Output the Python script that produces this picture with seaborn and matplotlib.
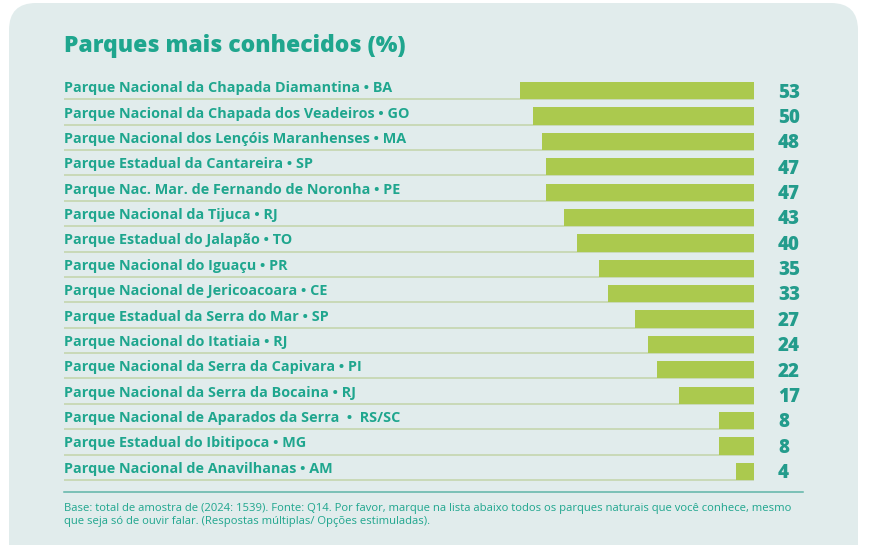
import matplotlib
matplotlib.use("Agg")
import matplotlib.pyplot as plt
import seaborn as sns
import pandas as pd
from matplotlib.patches import FancyBboxPatch
from matplotlib.transforms import blended_transform_factory

parks = [
    "Parque Nacional da Chapada Diamantina • BA",
    "Parque Nacional da Chapada dos Veadeiros • GO",
    "Parque Nacional dos Lençóis Maranhenses • MA",
    "Parque Estadual da Cantareira • SP",
    "Parque Nac. Mar. de Fernando de Noronha • PE",
    "Parque Nacional da Tijuca • RJ",
    "Parque Estadual do Jalapão • TO",
    "Parque Nacional do Iguaçu • PR",
    "Parque Nacional de Jericoacoara • CE",
    "Parque Estadual da Serra do Mar • SP",
    "Parque Nacional do Itatiaia • RJ",
    "Parque Nacional da Serra da Capivara • PI",
    "Parque Nacional da Serra da Bocaina • RJ",
    "Parque Nacional de Aparados da Serra  •  RS/SC",
    "Parque Estadual do Ibitipoca • MG",
    "Parque Nacional de Anavilhanas • AM",
]
values = [53, 50, 48, 47, 47, 43, 40, 35, 33, 27, 24, 22, 17, 8, 8, 4]

title = "Parques mais conhecidos (%)"
footnote = ("Base: total de amostra de (2024: 1539). Fonte: Q14. Por favor, marque na lista abaixo todos os parques naturais que você conhece, mesmo\n"
            "que seja só de ouvir falar. (Respostas múltiplas/ Opções estimuladas).")

TEAL = "#1fa68e"
TEAL_D = "#239c8c"
BAR = "#abc94e"
PANEL = "#e1ecec"
SEP = "#c2d4a9"

plt.rcParams["font.family"] = ["Open Sans", "DejaVu Sans"]

W, H = 870, 545
fig = plt.figure(figsize=(W / 100, H / 100), dpi=100)
fig.patch.set_facecolor("white")

panel = FancyBboxPatch((0.09, -0.4), 8.49, 5.42 + 0.4,
                       boxstyle="round,pad=0,rounding_size=0.27",
                       transform=fig.dpi_scale_trans, facecolor=PANEL,
                       edgecolor="none", zorder=-5)
fig.patches.append(panel)

row0 = 90.75
step = 25.37
top_px = row0 - step / 2
bot_px = row0 + 15 * step + step / 2
left_px, right_px = 64, 754
ax = fig.add_axes([left_px / W, 1 - bot_px / H, (right_px - left_px) / W, (bot_px - top_px) / H])
ax.set_facecolor("none")

df = pd.DataFrame({"park": parks, "value": values})
XMAX = 156
for i in range(len(parks)):
    ax.plot([XMAX, 0], [i + 0.34, i + 0.34], color=SEP, lw=1.1, zorder=1, solid_capstyle="butt")

sns.barplot(data=df, x="value", y="park", orient="h", color=BAR, saturation=1,
            width=0.68, ax=ax, zorder=2)
ax.set_xlim(XMAX, 0)
ax.set_ylim(len(parks) - 0.5, -0.5)
ax.axis("off")

trans = blended_transform_factory(ax.transAxes, ax.transData)
for i, (p, v) in enumerate(zip(parks, values)):
    ax.text(0, i - 0.1, p, transform=trans, ha="left", va="center",
            fontsize=10.4, fontweight="bold", color=TEAL)
    ax.text((778 - left_px) / (right_px - left_px), i + 0.07, str(v), transform=trans,
            ha="left", va="center", fontsize=13.5, fontweight=800, color=TEAL_D,
            clip_on=False)

fig.text(64 / W, 1 - 46 / H, title, ha="left", va="center", fontsize=16.5,
         fontweight=800, color=TEAL)

fig.add_artist(plt.Line2D([64 / W, 803 / W], [1 - 492 / H, 1 - 492 / H],
                          color="#5fb5a8", lw=1.1, transform=fig.transFigure))
fig.text(64 / W, 1 - 515 / H, footnote, ha="left", va="center", fontsize=8.1,
         color=TEAL, linespacing=1.25)

fig.savefig("out.png", dpi=100, facecolor=fig.get_facecolor())
